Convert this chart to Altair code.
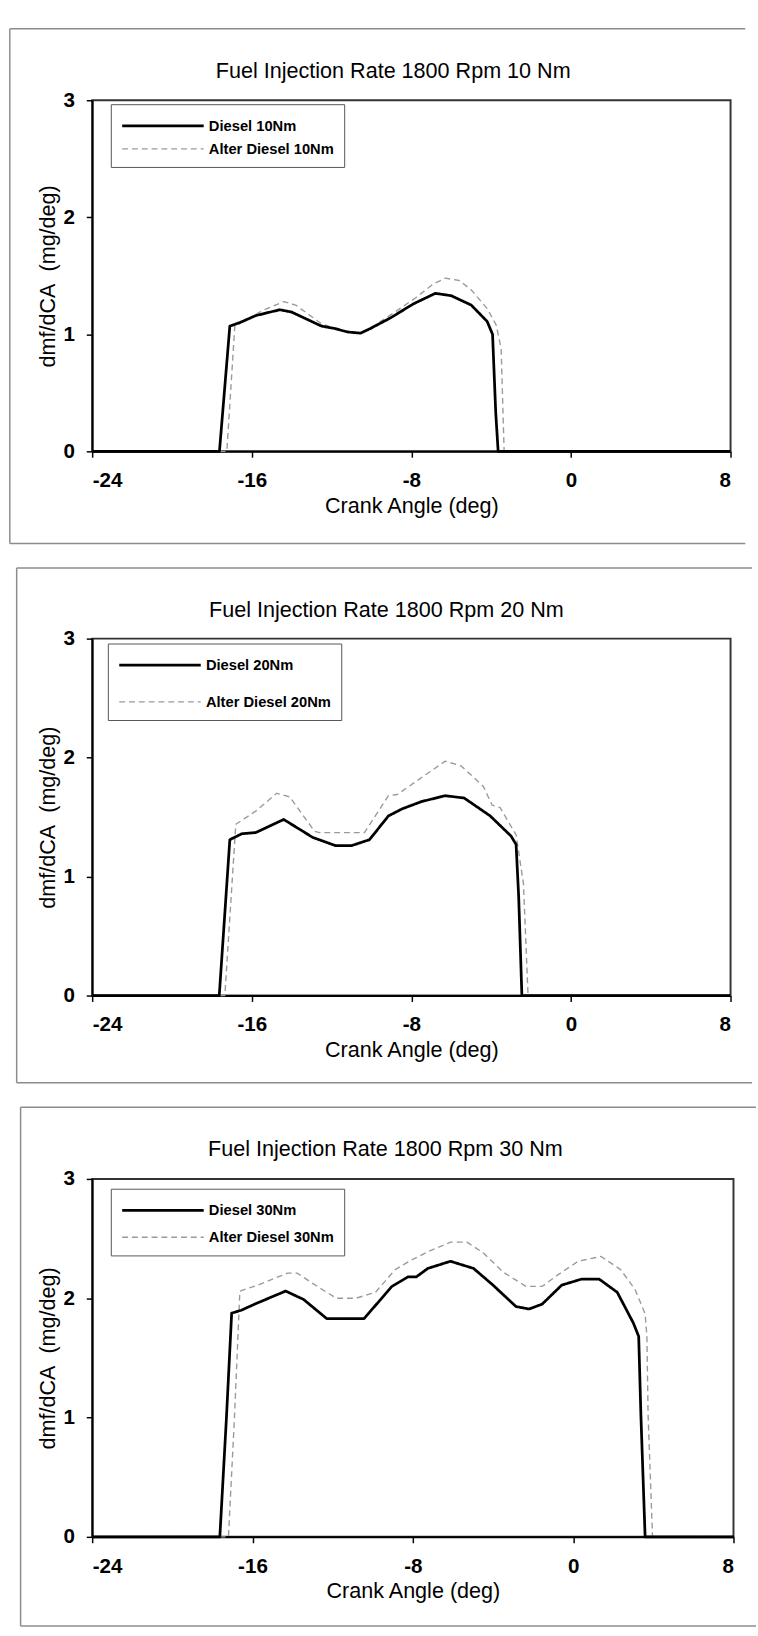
import altair as alt
import pandas as pd

FONT = "Liberation Sans"

# ---- 10 Nm ----------------------------------------------------------------
d10_angle = [-24, -17.62, -17.1, -16.6, -15.8, -14.6, -14.0, -12.5, -11.85, -11.2,
             -10.55, -10.05, -9.05, -7.9, -6.8, -6.0, -5.0, -4.2, -3.93, -3.77, -3.65, 8]
d10_rate = [0, 0, 1.07, 1.10, 1.16, 1.21, 1.19, 1.07, 1.05, 1.02,
            1.01, 1.05, 1.14, 1.26, 1.35, 1.33, 1.25, 1.11, 1.0, 0.33, 0, 0]
a10_angle = [-24, -17.25, -16.85, -16.3, -15.5, -14.4, -13.8, -12.5, -11.5, -10.5,
             -10.0, -9.0, -7.8, -6.9, -6.3, -5.6, -5.0, -4.2, -3.75, -3.5, -3.35, 8]
a10_rate = [0, 0, 1.07, 1.12, 1.20, 1.28, 1.25, 1.09, 1.03, 1.01,
            1.06, 1.17, 1.31, 1.43, 1.48, 1.46, 1.38, 1.22, 1.08, 0.88, 0, 0]

# ---- 20 Nm ----------------------------------------------------------------
d20_angle = [-24, -17.63, -17.1, -16.5, -15.8, -14.4, -12.95, -11.8, -11.0, -10.1,
             -9.15, -8.45, -7.5, -6.3, -5.35, -4.05, -3.0, -2.75, -2.62, -2.46, 8]
d20_rate = [0, 0, 1.31, 1.36, 1.37, 1.48, 1.33, 1.26, 1.26, 1.31,
            1.51, 1.57, 1.63, 1.68, 1.66, 1.51, 1.34, 1.27, 0.83, 0, 0]
a20_angle = [-24, -17.35, -16.8, -15.8, -14.75, -14.1, -12.85, -12.6, -10.35, -9.15,
             -8.7, -7.25, -6.3, -5.5, -4.4, -3.95, -3.55, -2.75, -2.38, -2.15, 8]
a20_rate = [0, 0, 1.44, 1.55, 1.70, 1.67, 1.38, 1.37, 1.37, 1.68,
            1.69, 1.86, 1.97, 1.93, 1.76, 1.60, 1.58, 1.35, 0.94, 0, 0]

# ---- 30 Nm ----------------------------------------------------------------
d30_angle = [-24, -17.63, -17.3, -17.04, -16.55, -15.9, -14.35, -13.45, -12.3, -10.43,
             -9.04, -8.23, -7.82, -7.25, -6.12, -4.97, -4.0, -2.85, -2.2, -1.55,
             -0.57, 0.41, 1.3, 2.2, 3.01, 3.27, 3.38, 3.59, 8]
d30_rate = [0, 0, 1.0, 1.875, 1.90, 1.95, 2.06, 1.99, 1.83, 1.83,
            2.10, 2.18, 2.18, 2.25, 2.31, 2.25, 2.11, 1.93, 1.91, 1.95,
            2.11, 2.16, 2.16, 2.05, 1.79, 1.68, 1.02, 0, 0]
a30_angle = [-24, -17.2, -16.9, -16.63, -15.73, -14.26, -13.77, -12.96, -11.82, -10.84,
             -9.86, -8.88, -8.07, -7.25, -6.12, -5.3, -4.48, -3.5, -2.36, -1.54,
             -0.73, 0.25, 1.39, 2.37, 3.1, 3.59, 3.68, 3.74, 3.96, 8]
a30_rate = [0, 0, 1.0, 2.06, 2.11, 2.21, 2.21, 2.12, 2.0, 2.0,
            2.05, 2.24, 2.32, 2.39, 2.47, 2.47, 2.38, 2.22, 2.10, 2.10,
            2.20, 2.31, 2.35, 2.24, 2.07, 1.87, 1.68, 1.02, 0, 0]

x_ticks = [-24, -16, -8, 0, 8]
y_ticks = [0, 1, 2, 3]

one_row = pd.DataFrame({"k": [0]})


def panel(title, names, curves, w, h, frame, legend_xy, row_pad, title_xy):
    left, top, right, bottom = frame
    rows = []
    # the dashed series goes first so the solid one is drawn over it
    for name, (ang, rate) in reversed(list(zip(names, curves))):
        for i, (a, r) in enumerate(zip(ang, rate)):
            rows.append({"angle": a, "rate": r, "series": name, "idx": i})
    df = pd.DataFrame(rows)

    legend = alt.Legend(
        title=None, orient="none", legendX=legend_xy[0], legendY=legend_xy[1],
        direction="vertical", symbolType="M-1,0H7", symbolSize=432,
        labelOffset=66, labelFont=FONT, labelFontSize=15, labelFontWeight="bold",
        labelColor="black", strokeColor="#555555", fillColor="white",
        padding=10, rowPadding=row_pad,
    )

    lines = alt.Chart(df).mark_line(strokeJoin="round").encode(
        x=alt.X("angle:Q", scale=alt.Scale(domain=[-24, 8], nice=False, zero=False),
                axis=alt.Axis(values=x_ticks, title="Crank Angle (deg)",
                              labelExpr="'' + datum.value",
                              labelPadding=13, titlePadding=5)),
        y=alt.Y("rate:Q", scale=alt.Scale(domain=[0, 3], nice=False),
                axis=alt.Axis(values=y_ticks, title="dmf/dCA\u00a0 (mg/deg)",
                              labelExpr="'' + datum.value",
                              labelPadding=12, titlePadding=4)),
        color=alt.Color("series:N", scale=alt.Scale(domain=names, range=["#000000", "#9a9a9a"]),
                        legend=legend),
        strokeDash=alt.StrokeDash("series:N", scale=alt.Scale(domain=names, range=[[1, 0], [6, 4]]),
                                  legend=legend),
        strokeWidth=alt.StrokeWidth("series:N", scale=alt.Scale(domain=names, range=[2.8, 1.4]),
                                    legend=legend),
        order=alt.Order("idx:Q"),
    )

    frame_style = dict(color="#8c8c8c", strokeWidth=1.5)
    frame_top = alt.Chart(one_row).mark_rule(**frame_style).encode(
        x=alt.value(-left), x2=alt.value(w + right), y=alt.value(-top))
    frame_bottom = alt.Chart(one_row).mark_rule(**frame_style).encode(
        x=alt.value(-left), x2=alt.value(w + right), y=alt.value(h + bottom))
    frame_left = alt.Chart(one_row).mark_rule(**frame_style).encode(
        x=alt.value(-left), y=alt.value(-top), y2=alt.value(h + bottom))

    heading = alt.Chart(one_row).mark_text(
        text=title, font=FONT, fontSize=22, color="black", baseline="middle", align="center"
    ).encode(x=alt.value(title_xy[0]), y=alt.value(title_xy[1]))

    return alt.layer(frame_top, frame_bottom, frame_left, lines, heading).properties(
        width=w, height=h)


p1 = panel("Fuel Injection Rate 1800 Rpm 10 Nm", ["Diesel 10Nm", "Alter Diesel 10Nm"],
           [(d10_angle, d10_rate), (a10_angle, a10_rate)],
           651, 358, (84, 73, 15, 94), (19, 4), 4, (307, -30))
p2 = panel("Fuel Injection Rate 1800 Rpm 20 Nm", ["Diesel 20Nm", "Alter Diesel 20Nm"],
           [(d20_angle, d20_rate), (a20_angle, a20_rate)],
           651, 364, (77, 72, 22, 89), (16, 5), 18, (300, -29))
p3 = panel("Fuel Injection Rate 1800 Rpm 30 Nm", ["Diesel 30Nm", "Alter Diesel 30Nm"],
           [(d30_angle, d30_rate), (a30_angle, a30_rate)],
           654, 365, (73, 73, 23, 91), (19, 10), 8, (299, -30))

chart = alt.vconcat(p1, p2, p3, spacing=21).resolve_scale(
    color="independent", strokeDash="independent", strokeWidth="independent"
).properties(
    padding={"left": 8, "top": 11, "right": 0, "bottom": 0}
).configure_view(
    stroke="#333333", strokeWidth=2
).configure_axis(
    grid=False, domainColor="black", domainWidth=2, tickColor="black", tickWidth=1.5,
    tickSize=6, labelFont=FONT, labelFontSize=21, labelFontWeight="bold", labelColor="black",
    titleFont=FONT, titleFontSize=22, titleFontWeight="normal", titleColor="black",
)

chart.save("out.html", embed_options={"renderer": "svg", "actions": False})
